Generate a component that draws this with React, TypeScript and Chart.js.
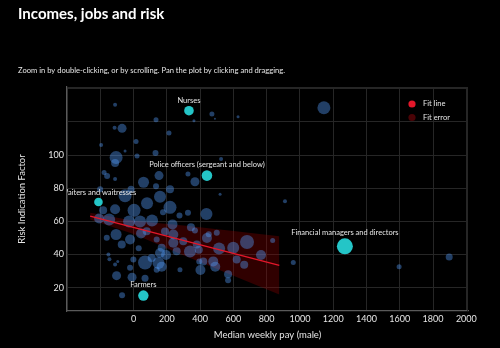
import React, { useEffect, useRef } from 'react';
import { Chart, registerables } from 'chart.js';

Chart.register(...registerables);

const TITLE = 'Incomes, jobs and risk';
const SUBTITLE = 'Zoom in by double-clicking, or by scrolling. Pan the plot by clicking and dragging.';
const X_TITLE = 'Median weekly pay (male)';
const Y_TITLE = 'Risk Indication Factor';
const LEGEND_LABELS = ['Fit line', 'Fit error'];

// Grid positions and the subset that carries a label
const xGrid = [-400, -200, 0, 200, 400, 600, 800, 1000, 1200, 1400, 1600, 1800, 2000];
const xTickLabels = ['0', '200', '400', '600', '800', '1000', '1200', '1400', '1600', '1800', '2000'];
const yGrid = [20, 40, 60, 80, 100, 120, 140];
const yTickLabels = ['20', '40', '60', '80', '100'];

// Occupation bubbles (median weekly pay, risk factor, bubble radius)
const bubbleX = [-111, 135, -69, -114, 213, 15, -195, -51, 132, -105, 21, 471, 489, 363, 628, 526, 1144, 910,
  327, 153, 60, 369, 219, 520, -177, -159, -111, -51, -201, 81, 219, 327, 438, -111, 3, -111, 159, -15, 135,
  -183, 276, 177, 234, 111, -27, -147, -207, -105, 39, 45, 189, 345, 369, -161, -21, -71, 79, 239, 139, 169,
  239, 299, 380, 441, 500, 514, 599, 682, 766, 620, 479, 419, 339, 259, 159, 109, 69, 150, 169, -1, -21, -111,
  -151, -102, -9, 69, 139, 279, 402, 568, 568, -69, 31, 195, 392, 491, 665, 836, 960, 1897, 1596, 452, -145,
  -95, 395];
const bubbleY = [130.3, 121.2, 116.1, 116.4, 113.3, 108.2, 106.1, 102.4, 101.2, 98.5, 99.4, 124.8, 121.8, 120.6,
  123.0, 97.6, 128.5, 72.1, 88.5, 87.6, 83.6, 83.9, 79.4, 76.4, 89.4, 87.3, 85.5, 75.5, 79.4, 70.9, 68.5, 65.2,
  64.5, 67.3, 66.7, 95.2, 74.9, 79.4, 81.2, 66.7, 63.6, 65.5, 58.2, 60.6, 60.0, 61.2, 61.8, 52.1, 60.0, 52.7,
  53.9, 56.4, 54.5, 50.1, 49.1, 46.1, 54.1, 52.1, 49.1, 44.1, 47.1, 48.1, 46.1, 50.0, 53.2, 43.6, 44.1, 47.6,
  39.7, 37.0, 35.9, 35.9, 41.8, 42.0, 41.0, 38.0, 35.2, 34.9, 32.7, 37.0, 32.0, 34.0, 40.0, 27.3, 26.4, 25.8,
  30.9, 30.9, 30.7, 28.2, 24.6, 15.5, 43.8, 39.8, 42.9, 32.7, 33.8, 48.5, 35.3, 38.6, 32.6, 52.3, 37.2, 35.8,
  35.8];
const bubbleR = [2, 2.5, 4.5, 2, 2.5, 2.5, 2, 1.5, 3, 6.5, 2.5, 2.5, 1, 1.5, 1.5, 2, 6.5, 2, 2.5, 4.5, 5.5, 4.5,
  4, 1.5, 2.5, 3, 2, 6.5, 3, 6, 6.5, 3, 6, 5, 6.5, 4, 6, 3.5, 3, 4, 3, 3, 5, 6, 6, 6, 5, 5.5, 6, 5, 4, 4, 3, 3,
  5, 4, 4, 5, 3, 4, 5, 4, 4, 5, 3, 6, 6, 7, 5, 4, 5, 4, 6, 4, 5, 4, 7, 6, 5, 3, 3, 2, 2, 4.5, 4.5, 3.5, 3, 2.5,
  5, 4, 3, 3, 3, 5, 4, 5, 4, 2.5, 2.5, 3.5, 2.5, 3, 2, 1.5, 3];

// Highlighted occupations
const highlightNames = ['Nurses', 'Police officers (sergeant and below)', 'Waiters and waitresses', 'Farmers',
  'Financial managers and directors'];
const highlightX = [333, 441, -211, 59, 1270];
const highlightY = [126.7, 87.6, 71.7, 15.3, 45.0];
const highlightR = [4.8, 5.3, 4.3, 5.2, 8];

// Fit line and its error band
const fitX = [-261, 876];
const fitY = [63.2, 33.5];
const bandX = [-261, 0, 300, 600, 876];
const bandUpper = [65.2, 60.4, 57.6, 54.2, 51.0];
const bandLower = [61.2, 52.4, 39.6, 27.2, 16.0];

const FONT = 'Lato, "Open Sans", sans-serif';
const TEXT = '#e6e6e6';
const GRID = '#262626';
const AXIS = '#5a5a5a';
const BUBBLE = 'rgba(80,150,240,0.42)';
const HIGHLIGHT = 'rgba(38,208,210,0.95)';
const FIT_LINE = '#e3172a';
const FIT_BAND = 'rgba(150,0,0,0.32)';
const FIT_ERR_LEGEND = '#4a0306';

const overlay = {
  id: 'overlay',
  beforeDatasetsDraw(chart: any) {
    const { ctx, chartArea } = chart;
    ctx.save();
    ctx.strokeStyle = GRID;
    ctx.lineWidth = 1;
    ctx.beginPath();
    ctx.moveTo(chartArea.left, chartArea.top + 0.5);
    ctx.lineTo(chartArea.right, chartArea.top + 0.5);
    ctx.moveTo(chartArea.right - 0.5, chartArea.top);
    ctx.lineTo(chartArea.right - 0.5, chartArea.bottom);
    ctx.stroke();
    ctx.restore();
  },
  afterDraw(chart: any) {
    const { ctx, chartArea } = chart;
    const xs = chart.scales.x;
    const ys = chart.scales.y;
    ctx.save();
    ctx.fillStyle = '#ffffff';
    ctx.textAlign = 'left';
    ctx.textBaseline = 'alphabetic';
    ctx.font = `bold 15px ${FONT}`;
    ctx.fillText(TITLE, 18, 19);
    ctx.fillStyle = TEXT;
    ctx.font = `7.6px ${FONT}`;
    ctx.fillText(SUBTITLE, 18, 72.5);

    // point labels, clipped to the plot
    ctx.save();
    ctx.beginPath();
    ctx.rect(chartArea.left, chartArea.top, chartArea.right - chartArea.left, chartArea.bottom - chartArea.top);
    ctx.clip();
    ctx.font = `7.5px ${FONT}`;
    ctx.textAlign = 'center';
    ctx.textBaseline = 'middle';
    ctx.fillStyle = TEXT;
    highlightNames.forEach((name, i) => {
      const px = xs.getPixelForValue(highlightX[i]);
      const py = ys.getPixelForValue(highlightY[i]);
      ctx.fillText(name, px, py - highlightR[i] - 5.5);
    });
    ctx.restore();

    // legend
    const lx = chartArea.right - 56;
    const ly = chartArea.top + 17;
    const colors = [FIT_LINE, FIT_ERR_LEGEND];
    ctx.font = `7.5px ${FONT}`;
    ctx.textAlign = 'left';
    ctx.textBaseline = 'middle';
    LEGEND_LABELS.forEach((lab, i) => {
      const y = ly + i * 13.5;
      ctx.beginPath();
      ctx.fillStyle = colors[i];
      ctx.arc(lx, y, 3.6, 0, Math.PI * 2);
      ctx.fill();
      ctx.fillStyle = TEXT;
      ctx.fillText(lab, lx + 11, y);
    });
    ctx.restore();
  },
};

export default function App() {
  const canvasRef = useRef<HTMLCanvasElement>(null);

  useEffect(() => {
    document.body.style.margin = '0';
    document.body.style.background = '#000';
    const canvas = canvasRef.current;
    if (!canvas) return;

    const bubbles = bubbleX.map((x, i) => ({ x, y: bubbleY[i], r: bubbleR[i] }));
    const highlights = highlightX.map((x, i) => ({ x, y: highlightY[i], r: highlightR[i] }));
    const fit = fitX.map((x, i) => ({ x, y: fitY[i] }));
    const upper = bandX.map((x, i) => ({ x, y: bandUpper[i] }));
    const lower = bandX.map((x, i) => ({ x, y: bandLower[i] }));

    const chart = new Chart(canvas, {
      type: 'bubble',
      data: {
        datasets: [
          {
            type: 'line',
            label: 'band upper',
            data: upper,
            borderWidth: 0,
            borderColor: 'rgba(0,0,0,0)',
            pointRadius: 0,
            fill: false,
            order: 3,
          } as any,
          {
            type: 'line',
            label: 'Fit error',
            data: lower,
            borderWidth: 0,
            borderColor: 'rgba(0,0,0,0)',
            backgroundColor: FIT_BAND,
            pointRadius: 0,
            fill: '-1',
            order: 3,
          } as any,
          {
            label: 'Occupations',
            data: bubbles,
            backgroundColor: BUBBLE,
            borderWidth: 0,
            order: 2,
          },
          {
            label: 'Highlighted',
            data: highlights,
            backgroundColor: HIGHLIGHT,
            borderWidth: 0,
            order: 1,
          },
          {
            type: 'line',
            label: 'Fit line',
            data: fit,
            borderColor: FIT_LINE,
            borderWidth: 1.4,
            pointRadius: 0,
            fill: false,
            order: 0,
          } as any,
        ],
      },
      options: {
        responsive: false,
        animation: false,
        devicePixelRatio: 1,
        layout: { padding: { left: 12, right: 32, top: 87, bottom: 3 } },
        plugins: {
          legend: { display: false },
          tooltip: { enabled: false },
          title: { display: false },
        },
        scales: {
          x: {
            type: 'linear',
            position: 'bottom',
            min: -400,
            max: 2010,
            afterFit: (s: any) => { s.height = 34; },
            afterBuildTicks: (s: any) => { s.ticks = xGrid.map((v) => ({ value: v })); },
            ticks: {
              padding: 3,
              color: TEXT,
              font: { family: FONT, size: 9 },
              maxRotation: 0,
              autoSkip: false,
              callback: (v: any) => (xTickLabels.includes(String(v)) ? String(v) : ''),
            },
            grid: { color: GRID, drawTicks: false },
            border: { color: AXIS, width: 1.2 },
            title: {
              display: true,
              text: X_TITLE,
              color: TEXT,
              font: { family: FONT, size: 9.5 },
              padding: { top: 4, bottom: 4 },
            },
          },
          y: {
            type: 'linear',
            min: 6,
            max: 141,
            afterFit: (s: any) => { s.width = 55; },
            afterBuildTicks: (s: any) => { s.ticks = yGrid.map((v) => ({ value: v })); },
            ticks: {
              padding: 3,
              color: TEXT,
              font: { family: FONT, size: 9 },
              autoSkip: false,
              callback: (v: any) => (yTickLabels.includes(String(v)) ? String(v) : ''),
            },
            grid: { color: GRID, drawTicks: false },
            border: { color: AXIS, width: 1.2 },
            title: {
              display: true,
              text: Y_TITLE,
              color: TEXT,
              font: { family: FONT, size: 9.5 },
              padding: { top: 4, bottom: 4 },
            },
          },
        },
      },
      plugins: [overlay],
    });

    return () => chart.destroy();
  }, []);

  return (
    <div style={{ position: 'absolute', left: 0, top: 0, width: 500, height: 348, background: '#000' }}>
      <canvas ref={canvasRef} width={500} height={348} style={{ display: 'block' }} />
    </div>
  );
}
